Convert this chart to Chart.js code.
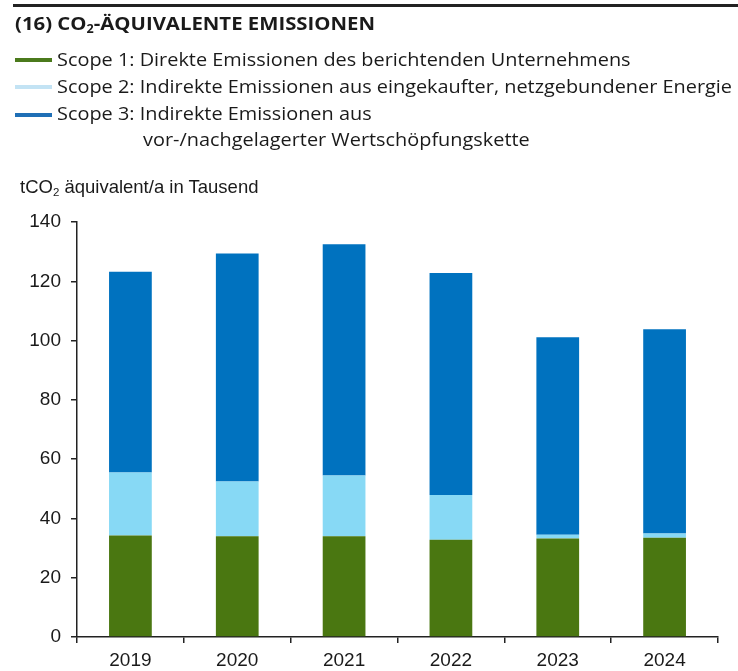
<!DOCTYPE html>
<html>
<head>
<meta charset="utf-8">
<script src="https://cdn.jsdelivr.net/npm/chart.js@4/dist/chart.umd.min.js"></script>
<style>
  html, body { margin:0; padding:0; background:#fff; }
  #wrap { position:relative; width:738px; height:671px; overflow:hidden; background:#fff; }
  #c { position:absolute; left:0; top:0; }
  .t { position:absolute; white-space:nowrap; line-height:1; color:#1a1a1a; transform-origin:0 0; }
  .hdr { font-family:"Open Sans", "Noto Sans", sans-serif; font-size:18.6px; }
  .sw { position:absolute; left:15px; width:37px; height:4px; }
  sub.s { font-size:0.62em; vertical-align:-0.28em; line-height:0; }
</style>
</head>
<body>
<div id="wrap">
  <canvas id="c" width="738" height="671"></canvas>
  <div style="position:absolute;left:13px;right:0;top:4px;height:3px;background:#222;"></div>
  <div class="t hdr" data-w="360" style="left:15px;top:14.2px;font-weight:700;">(16) CO<sub class="s">2</sub>-ÄQUIVALENTE EMISSIONEN</div>

  <div class="sw" style="top:58px;background:#4b7a1c;"></div>
  <div class="sw" style="top:85.3px;background:#c3e3f4;"></div>
  <div class="sw" style="top:113px;background:#1f6fb6;"></div>
  <div class="t hdr" id="l1" style="left:57px;top:50.2px;">Scope 1: Direkte Emissionen des berichtenden Unternehmens</div>
  <div class="t hdr" id="l2" data-w="675" style="left:57px;top:76.8px;">Scope 2: Indirekte Emissionen aus eingekaufter, netzgebundener Energie</div>
  <div class="t hdr" id="l3" style="left:57px;top:103.8px;">Scope 3: Indirekte Emissionen aus</div>
  <div class="t hdr" id="l4" style="left:143px;top:130.2px;">vor-/nachgelagerter Wertschöpfungskette</div>

  <div class="t" style="left:20px;top:177.6px;font-family:'Liberation Sans', Arial, sans-serif;font-size:18.5px;">tCO<sub class="s">2</sub> äquivalent/a in Tausend</div>
</div>
<script>
// ---- data ----
const categories = ["2019", "2020", "2021", "2022", "2023", "2024"];
const scope1 = [34.2, 34.0, 34.0, 32.8, 33.2, 33.5];
const scope2 = [21.3, 18.5, 20.5, 15.1, 1.3, 1.4];
const scope3 = [67.7, 76.9, 78.0, 74.9, 66.6, 68.9];
const seriesNames = [
  "Scope 1: Direkte Emissionen des berichtenden Unternehmens",
  "Scope 2: Indirekte Emissionen aus eingekaufter, netzgebundener Energie",
  "Scope 3: Indirekte Emissionen aus vor-/nachgelagerter Wertschöpfungskette"
];
const yMin = 0, yMax = 140, yStep = 20;

const tickFont = { family: "'Liberation Sans', Arial, sans-serif", size: 19 };
const axisColor = '#222';

new Chart(document.getElementById('c'), {
  type: 'bar',
  data: {
    labels: categories,
    datasets: [
      { label: seriesNames[0], data: scope1, backgroundColor: '#4a7711' },
      { label: seriesNames[1], data: scope2, backgroundColor: '#87d9f5' },
      { label: seriesNames[2], data: scope3, backgroundColor: '#0072bf' }
    ]
  },
  options: {
    responsive: false,
    animation: false,
    devicePixelRatio: 1,
    layout: { padding: { top: 222, right: 20, bottom: 0, left: 0 } },
    plugins: { legend: { display: false }, tooltip: { enabled: false } },
    datasets: { bar: { categoryPercentage: 1, barPercentage: 0.4 } },
    scales: {
      x: {
        stacked: true,
        offset: true,
        grid: { offset: true, drawOnChartArea: false, drawTicks: true, tickLength: 6, color: axisColor, lineWidth: 1.5 },
        border: { display: true, color: axisColor, width: 1.5 },
        ticks: { font: tickFont, color: '#1a1a1a', padding: 6, maxRotation: 0 },
        afterFit: s => { s.height = 34; }
      },
      y: {
        stacked: true,
        min: yMin, max: yMax,
        grid: { drawOnChartArea: false, drawTicks: true, tickLength: 6, color: axisColor, lineWidth: 1.5 },
        border: { display: true, color: axisColor, width: 1.5 },
        ticks: { stepSize: yStep, font: tickFont, color: '#1a1a1a', padding: 10 },
        afterFit: s => { s.width = 77; }
      }
    }
  }
});

function fit() {
  const l2 = document.getElementById('l2');
  l2.style.transform = '';
  const w2 = l2.getBoundingClientRect().width;
  const k = 675 / w2;
  ['l1','l2','l3','l4'].forEach(id => {
    document.getElementById(id).style.transform = 'scaleX(' + k + ')';
  });
  document.querySelectorAll('.hdr[data-w]').forEach(el => {
    if (el.id === 'l2') return;
    el.style.transform = '';
    const w = el.getBoundingClientRect().width;
    el.style.transform = 'scaleX(' + (parseFloat(el.dataset.w) / w) + ')';
  });
}
fit();
if (document.fonts && document.fonts.ready) document.fonts.ready.then(fit);
</script>
</body>
</html>
